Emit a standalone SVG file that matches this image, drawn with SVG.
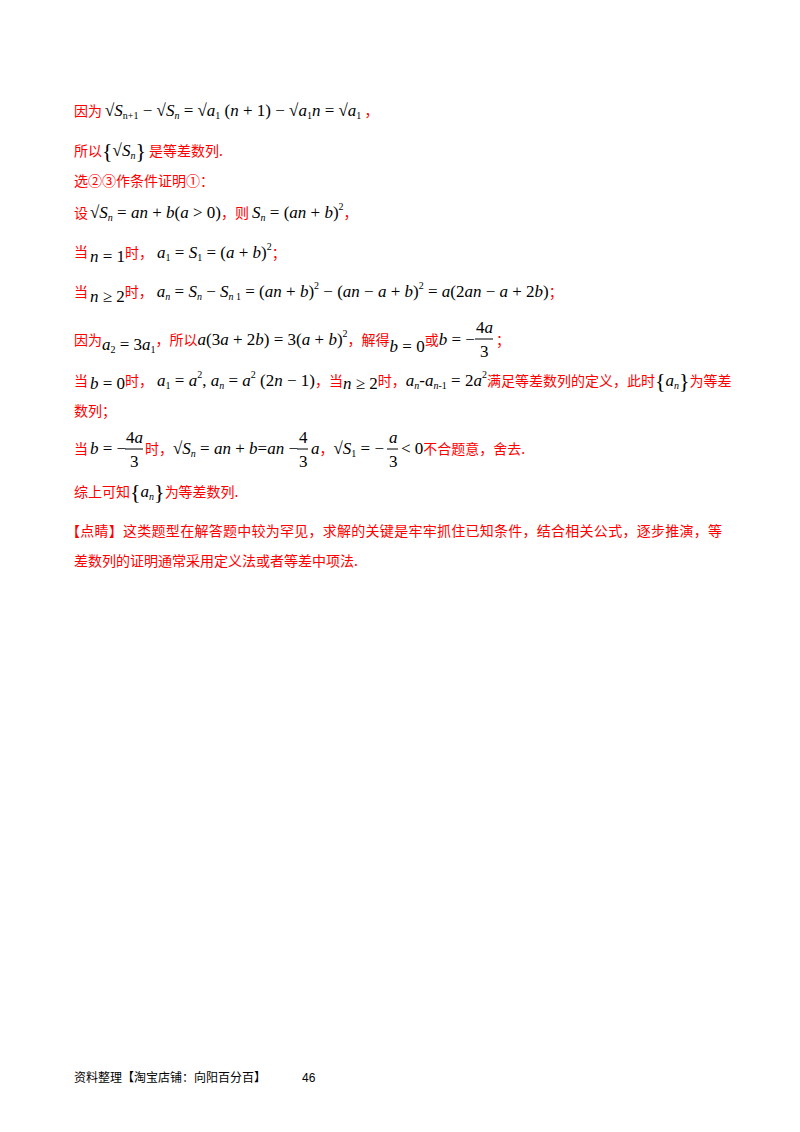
<svg xmlns="http://www.w3.org/2000/svg" width="800" height="1132" viewBox="0 0 800 1132">
<style>
text{font-family:"Noto Sans CJK SC",sans-serif;font-size:14px;fill:#f00}
.m{font-family:"Liberation Serif","DejaVu Serif",serif;font-size:17px;font-style:italic;fill:#000}
.u{font-family:"Liberation Serif","DejaVu Serif",serif;font-size:17px;font-style:normal;fill:#000}
.s{font-family:"Liberation Serif","DejaVu Serif",serif;font-size:10px;font-style:italic;fill:#000}
.su{font-family:"Liberation Serif","DejaVu Serif",serif;font-size:10px;font-style:normal;fill:#000}
.o{text-decoration:overline}
.b{font-family:"Liberation Serif","DejaVu Serif",serif;font-size:22px;fill:#000}
.f{font-family:"Noto Sans CJK SC",sans-serif;font-size:12px;fill:#000}
</style>
<rect width="800" height="1132" fill="#fff"/>
<text x="74" y="116">因为<tspan class="u" dx="3">√</tspan><tspan class="m">S</tspan><tspan class="su" dy="3">n+1</tspan><tspan class="u" dy="-3"> − √</tspan><tspan class="m">S</tspan><tspan class="s" dy="3">n</tspan><tspan class="u" dy="-3"> = √</tspan><tspan class="m">a</tspan><tspan class="su" dy="3">1</tspan><tspan class="u" dy="-3"> (</tspan><tspan class="m">n</tspan><tspan class="u"> + 1) − √</tspan><tspan class="m">a</tspan><tspan class="su" dy="3">1</tspan><tspan class="m" dy="-3">n</tspan><tspan class="u"> = √</tspan><tspan class="m">a</tspan><tspan class="su" dy="3">1</tspan><tspan dy="-3"> ，</tspan></text>
<text x="74" y="156">所以<tspan class="b" dy="2">{</tspan><tspan class="u" dy="-2">√</tspan><tspan class="m">S</tspan><tspan class="s" dy="3">n</tspan><tspan class="b" dy="-1">}</tspan><tspan dy="-2"> 是等差数列.</tspan></text>
<text x="74" y="186">选②③作条件证明①：</text>
<text x="74" y="218">设<tspan class="u" dx="2">√</tspan><tspan class="m">S</tspan><tspan class="s" dy="3">n</tspan><tspan class="u" dy="-3"> = </tspan><tspan class="m">an</tspan><tspan class="u"> + </tspan><tspan class="m">b</tspan><tspan class="u">(</tspan><tspan class="m">a</tspan><tspan class="u"> &gt; 0)</tspan>，则 <tspan class="m">S</tspan><tspan class="s" dy="3">n</tspan><tspan class="u" dy="-3"> = (</tspan><tspan class="m">an</tspan><tspan class="u"> + </tspan><tspan class="m">b</tspan><tspan class="u">)</tspan><tspan class="su" dy="-8">2</tspan><tspan dy="8">，</tspan></text>
<text x="74" y="257">当<tspan class="m" dx="2" dy="5">n</tspan><tspan class="u"> = 1</tspan><tspan dy="-4">时，</tspan><tspan class="m" dx="4">a</tspan><tspan class="su" dy="3">1</tspan><tspan class="u" dy="-3"> = </tspan><tspan class="m">S</tspan><tspan class="su" dy="3">1</tspan><tspan class="u" dy="-3"> = (</tspan><tspan class="m">a</tspan><tspan class="u"> + </tspan><tspan class="m">b</tspan><tspan class="u">)</tspan><tspan class="su" dy="-8">2</tspan><tspan dy="8">；</tspan></text>
<text x="74" y="297">当<tspan class="m" dx="2" dy="5">n</tspan><tspan class="u"> ≥ 2</tspan><tspan dy="-5">时，</tspan><tspan class="m" dx="4">a</tspan><tspan class="s" dy="3">n</tspan><tspan class="u" dy="-3"> = </tspan><tspan class="m">S</tspan><tspan class="s" dy="3">n</tspan><tspan class="u" dy="-3"> − </tspan><tspan class="m">S</tspan><tspan class="s" dy="3">n</tspan><tspan class="su"> 1</tspan><tspan class="u" dy="-3"> = (</tspan><tspan class="m">an</tspan><tspan class="u"> + </tspan><tspan class="m">b</tspan><tspan class="u">)</tspan><tspan class="su" dy="-8">2</tspan><tspan class="u" dy="8"> − (</tspan><tspan class="m">an</tspan><tspan class="u"> − </tspan><tspan class="m">a</tspan><tspan class="u"> + </tspan><tspan class="m">b</tspan><tspan class="u">)</tspan><tspan class="su" dy="-8">2</tspan><tspan class="u" dy="8"> = </tspan><tspan class="m">a</tspan><tspan class="u">(2</tspan><tspan class="m">an</tspan><tspan class="u"> − </tspan><tspan class="m">a</tspan><tspan class="u"> + 2</tspan><tspan class="m">b</tspan><tspan class="u">)</tspan>；</text>
<text x="74" y="345">因为<tspan class="m" dy="5">a</tspan><tspan class="su" dy="3">2</tspan><tspan class="u" dy="-3"> = 3</tspan><tspan class="m">a</tspan><tspan class="su" dy="3">1</tspan><tspan dy="-8">，所以</tspan><tspan class="m">a</tspan><tspan class="u">(3</tspan><tspan class="m">a</tspan><tspan class="u"> + 2</tspan><tspan class="m">b</tspan><tspan class="u">) = 3(</tspan><tspan class="m">a</tspan><tspan class="u"> + </tspan><tspan class="m">b</tspan><tspan class="u">)</tspan><tspan class="su" dy="-8">2</tspan><tspan dy="8">，解得</tspan><tspan class="m" dy="7">b</tspan><tspan class="u"> = 0</tspan><tspan dy="-7">或</tspan><tspan class="m">b</tspan><tspan class="u"> = −</tspan></text>
<g id="frac1"><text class="m" x="476" y="333"><tspan class="u">4</tspan>a</text><line x1="475" y1="339" x2="493" y2="339" stroke="#000"/><text class="u" x="480" y="357">3</text><text x="496" y="345">；</text></g>
<text x="74" y="386">当<tspan class="m" dx="2" dy="3">b</tspan><tspan class="u"> = 0</tspan><tspan dy="-3">时，</tspan><tspan class="m" dx="4">a</tspan><tspan class="su" dy="3">1</tspan><tspan class="u" dy="-3"> = </tspan><tspan class="m">a</tspan><tspan class="su" dy="-8">2</tspan><tspan class="u" dy="8">, </tspan><tspan class="m">a</tspan><tspan class="s" dy="3">n</tspan><tspan class="u" dy="-3"> = </tspan><tspan class="m">a</tspan><tspan class="su" dy="-8">2</tspan><tspan class="u" dy="8"> (2</tspan><tspan class="m">n</tspan><tspan class="u"> − 1)</tspan>，当<tspan class="m" dy="3">n</tspan><tspan class="u"> ≥ 2</tspan><tspan dy="-3">时，</tspan><tspan class="m">a</tspan><tspan class="s" dy="3">n</tspan><tspan class="u" dy="-3">-</tspan><tspan class="m">a</tspan><tspan class="s" dy="3">n</tspan><tspan class="su">-1</tspan><tspan class="u" dy="-3"> = 2</tspan><tspan class="m">a</tspan><tspan class="su" dy="-8">2</tspan><tspan dy="8">满足等差数列的定义，此时</tspan><tspan class="b" dy="2">{</tspan><tspan class="m" dy="-2">a</tspan><tspan class="s" dy="3">n</tspan><tspan class="b" dy="-1">}</tspan><tspan dy="-2">为等差</tspan></text>
<text x="74" y="416">数列；</text>
<text x="74" y="454">当<tspan class="m" dx="2">b</tspan><tspan class="u"> = −</tspan></text>
<g id="frac2"><text class="m" x="126" y="443"><tspan class="u">4</tspan>a</text><line x1="125" y1="449" x2="143" y2="449" stroke="#000"/><text class="u" x="130" y="467">3</text></g>
<text x="145" y="454">时，<tspan class="u">√</tspan><tspan class="m">S</tspan><tspan class="s" dy="3">n</tspan><tspan class="u" dy="-3"> = </tspan><tspan class="m">an</tspan><tspan class="u"> + </tspan><tspan class="m">b</tspan><tspan class="u">=</tspan><tspan class="m">an</tspan><tspan class="u"> −</tspan></text>
<g id="frac3"><text class="u" x="299" y="443">4</text><line x1="297" y1="449" x2="308" y2="449" stroke="#000"/><text class="u" x="299" y="467">3</text></g>
<text x="311" y="454"><tspan class="m">a</tspan>，<tspan class="u">√</tspan><tspan class="m">S</tspan><tspan class="su" dy="3">1</tspan><tspan class="u" dy="-3"> = −</tspan></text>
<g id="frac4"><text class="m" x="389" y="443">a</text><line x1="387" y1="449" x2="398" y2="449" stroke="#000"/><text class="u" x="389" y="467">3</text></g>
<text x="401" y="454"><tspan class="u">&lt; 0</tspan>不合题意，舍去.</text>
<text x="74" y="497">综上可知<tspan class="b" dy="2">{</tspan><tspan class="m" dy="-2">a</tspan><tspan class="s" dy="3">n</tspan><tspan class="b" dy="-1">}</tspan><tspan dy="-2">为等差数列.</tspan></text>
<text x="66" y="536" textLength="656">【点睛】这类题型在解答题中较为罕见，求解的关键是牢牢抓住已知条件，结合相关公式，逐步推演，等</text>
<text x="74" y="566">差数列的证明通常采用定义法或者等差中项法.</text>
<text class="f" x="74" y="1082">资料整理【淘宝店铺：向阳百分百】</text>
<text class="f" x="302" y="1082" style="font-family:'Liberation Sans',sans-serif">46</text>
</svg>
